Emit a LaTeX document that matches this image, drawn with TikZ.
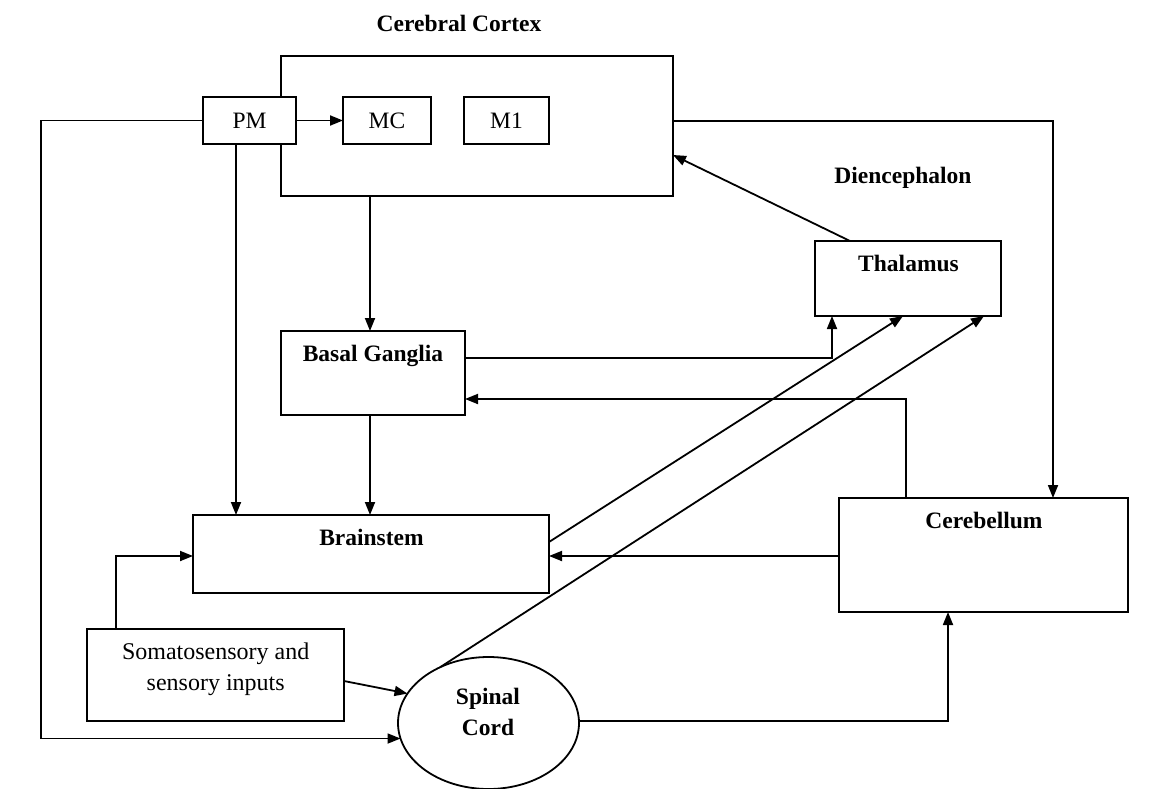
\documentclass[tikz,border=0pt]{standalone}
\usepackage{fontspec}
\setmainfont{Liberation Serif}
\usetikzlibrary{arrows.meta,shapes.geometric}
\begin{document}
\begin{tikzpicture}[x=1pt,y=-1pt,
  line width=1.8pt,
  box/.style={draw, rectangle, line width=1.8pt, inner sep=0pt, outer sep=0pt, anchor=north west, fill=white},
  arr/.style={-{Triangle[length=13pt,width=10pt]}, line width=1.8pt},
  bl/.style={font=\fontsize{23.5}{27}\selectfont\bfseries, anchor=base, inner sep=0pt},
  rl/.style={font=\fontsize{23.5}{27}\selectfont, inner sep=0pt},
  sl/.style={font=\fontsize{24}{30}\selectfont, anchor=base, inner sep=0pt}]
\useasboundingbox (0,0) rectangle (1161,789);

% boxes
\node[box, minimum width=392pt, minimum height=140pt] (cx) at (281,56) {};
\node[box, minimum width=93pt, minimum height=47pt] (pm) at (203,97) {};
\node[rl] (pmt) at (249.5,120.5) {PM};
\node[box, minimum width=88pt, minimum height=47pt] (mc) at (343,97) {};
\node[rl] (mct) at (387,120.5) {MC};
\node[box, minimum width=85pt, minimum height=47pt] (m1) at (464,97) {};
\node[rl] (m1t) at (506.5,120.5) {M1};
\node[box, minimum width=186pt, minimum height=75pt] (th) at (815,241) {};
\node[box, minimum width=184pt, minimum height=84pt] (bg) at (281,331) {};
\node[box, minimum width=356pt, minimum height=78pt] (bs) at (193,515) {};
\node[box, minimum width=289pt, minimum height=114pt] (cb) at (839,498) {};
\node[box, minimum width=257pt, minimum height=92pt] (so) at (87,629) {};
\node[draw, ellipse, line width=1.8pt, inner sep=0pt, outer sep=0pt, minimum width=181pt, minimum height=132pt] (sc) at (488.5,723) {};

% labels
\node[bl] (cxt) at (459,32) {Cerebral Cortex};
\node[bl] (dit) at (903,183) {Diencephalon};
\node[bl] (tht) at (908.5,271) {Thalamus};
\node[bl] (bgt) at (373,361) {Basal Ganglia};
\node[bl] (bst) at (371.5,545) {Brainstem};
\node[bl] (cbt) at (984,528) {Cerebellum};
\node[bl] (sct1) at (488,704) {Spinal};
\node[bl] (sct2) at (488,735) {Cord};
\node[sl] (sot1) at (215.7,659) {Somatosensory and};
\node[sl] (sot2) at (215.7,690) {sensory inputs};

% helper coordinates
\coordinate (xL) at (41,0);
\coordinate (xPMd) at (236,0);
\coordinate (x370) at (370,0);
\coordinate (j1) at (832,358);
\coordinate (j2) at (906,399);
\coordinate (yR) at (1053,121);
\coordinate (yTh) at (850,155);
\coordinate (d1) at (903,542);
\coordinate (d2) at (984,0);
\coordinate (y556) at (116,556);
\coordinate (y681) at (0,681);
\coordinate (x948) at (948,721);

% connectors
\draw[arr] (pm) -- (mc);
\draw[arr] (pm.west) -- (pm.west -| xL) |- (sc.190);
\draw[arr] (pm.south -| xPMd) -- (bs.north -| xPMd);
\draw[arr] (cx.south -| x370) -- (bg.north -| x370);
\draw[arr] (bg.south -| x370) -- (bs.north -| x370);
\draw[arr] (bg.east |- j1) -| (th.south -| j1);
\draw[arr] (cb.north -| j2) |- (bg.east |- j2);
\draw[arr] (cx.east |- yR) -| (cb.north -| yR);
\draw[arr] (th.north -| yTh) -- (cx.east |- yTh);
\draw[arr] (bs.east |- d1) -- (th.south -| d1);
\draw[arr] (sc.131) -- (th.south -| d2);
\draw[arr] (cb.west |- y556) -- (bs.east |- y556);
\draw[arr] (so.north -| y556) |- (bs.west |- y556);
\draw[arr] (so.east |- y681) -- (sc.160);
\draw[arr] (sc.east |- x948) -| (cb.south -| x948);
\end{tikzpicture}
\end{document}
